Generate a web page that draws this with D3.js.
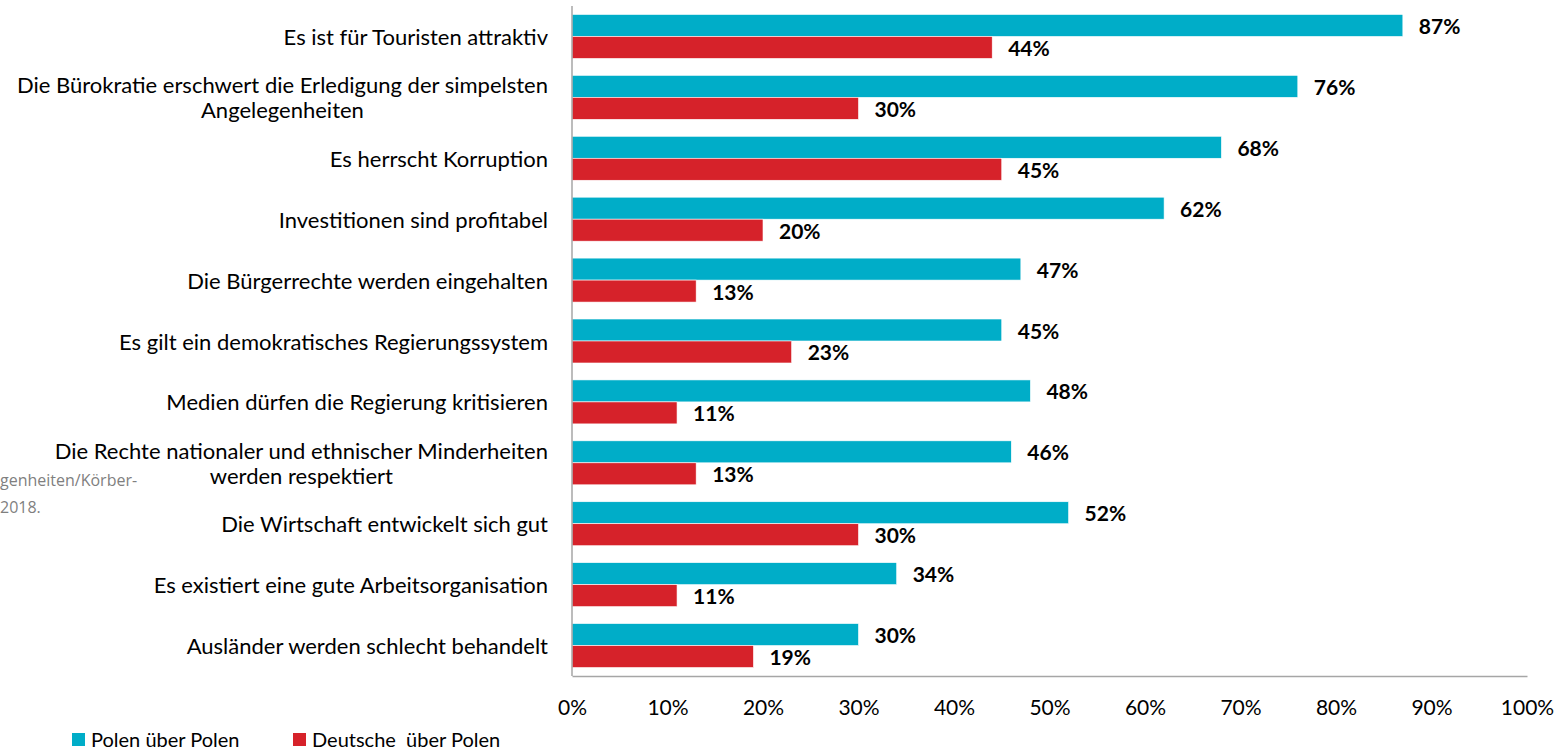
<!DOCTYPE html>
<html>
<head>
<meta charset="utf-8">
<script src="https://cdn.jsdelivr.net/npm/d3@7"></script>
<style>
  body { margin: 0; background: #fff; }
  text { font-family: Lato, "Open Sans", sans-serif; }
</style>
</head>
<body>
<div id="chart"></div>
<script>
var categories = [
    "Es ist für Touristen attraktiv",
    "Die Bürokratie erschwert die Erledigung der simpelsten\nAngelegenheiten",
    "Es herrscht Korruption",
    "Investitionen sind profitabel",
    "Die Bürgerrechte werden eingehalten",
    "Es gilt ein demokratisches Regierungssystem",
    "Medien dürfen die Regierung kritisieren",
    "Die Rechte nationaler und ethnischer Minderheiten\nwerden respektiert",
    "Die Wirtschaft entwickelt sich gut",
    "Es existiert eine gute Arbeitsorganisation",
    "Ausländer werden schlecht behandelt"
];
var polen = [87, 76, 68, 62, 47, 45, 48, 46, 52, 34, 30];
var deutsche = [44, 30, 45, 20, 13, 23, 11, 13, 30, 11, 19];
var seriesNames = ["Polen über Polen", "Deutsche  über Polen"];
var seriesColors = ["#00adc8", "#d6222a"];
var tickValues = [0, 10, 20, 30, 40, 50, 60, 70, 80, 90, 100];
var sourceLines = ["genheiten/Körber-", "2018."];

var totalWidth = 1558,
    totalHeight = 750;

var svg = d3.select("#chart")
    .append("svg")
    .attr("width", totalWidth)
    .attr("height", totalHeight);

// rows = one object per category, values per series
var rows = categories.map((c, i) => ({cat: c, values: [polen[i], deutsche[i]]}));

var x = d3.scaleLinear()
    .domain([0, 100])
    .range([572, 1527]);

var y = d3.scaleBand()
    .domain(categories)
    .range([6, 676])
    .paddingInner(0.278)
    .paddingOuter(0.139);

var ySub = d3.scaleBand()
    .domain([0, 1])
    .range([0, y.bandwidth()]);

// source note cut off at the left edge
svg.append("g")
    .selectAll("text")
    .data(sourceLines)
    .enter()
    .append("text")
    .attr("x", 0)
    .attr("y", (d, i) => 480 + i * 27)
    .attr("dominant-baseline", "central")
    .style("font-family", "'Open Sans', sans-serif")
    .style("font-size", "16px")
    .style("fill", "#7f7f7f")
    .text(d => d);

// bars
var groups = svg.append("g")
    .selectAll("g")
    .data(rows)
    .enter()
    .append("g")
    .attr("transform", d => "translate(0," + y(d.cat) + ")");

groups.selectAll("rect")
    .data(d => d.values)
    .enter()
    .append("rect")
    .attr("x", x(0))
    .attr("y", (d, i) => ySub(i))
    .attr("width", d => x(d) - x(0))
    .attr("height", ySub.bandwidth())
    .style("fill", (d, i) => seriesColors[i])
    .style("stroke", "#fff")
    .style("stroke-width", 0.6);

groups.selectAll("text.val")
    .data(d => d.values)
    .enter()
    .append("text")
    .attr("class", "val")
    .attr("x", d => x(d) + 16)
    .attr("y", (d, i) => ySub(i) + ySub.bandwidth() / 2)
    .attr("dominant-baseline", "central")
    .style("font-size", "21px")
    .style("font-weight", "bold")
    .style("fill", "#000")
    .text(d => d + "%");

// category labels, multi-line ones centred on their widest line
var labelRight = 548;
var lineHeight = 25;
svg.append("g")
    .selectAll("text")
    .data(categories)
    .enter()
    .append("text")
    .style("font-size", "22px")
    .style("fill", "#000")
    .each(function (d) {
        var lines = d.split("\n");
        var t = d3.select(this);
        var cy = y(d) + y.bandwidth() / 2;
        var spans = lines.map((l, i) => t.append("tspan")
            .attr("y", cy + (i - (lines.length - 1) / 2) * lineHeight)
            .attr("dominant-baseline", "central")
            .text(l));
        var maxW = d3.max(spans, s => s.node().getComputedTextLength());
        spans.forEach(s => s.attr("x", labelRight - maxW / 2).attr("text-anchor", "middle"));
    });

// axes
svg.append("line")
    .attr("x1", x(0)).attr("x2", x(0))
    .attr("y1", 6).attr("y2", 676)
    .style("stroke", "#a6a6a6")
    .style("stroke-width", 1.5);

var xAxis = svg.append("g")
    .attr("transform", "translate(0,676)")
    .call(d3.axisBottom(x)
        .tickValues(tickValues)
        .tickSize(0)
        .tickPadding(24)
        .tickFormat(d => d + "%"));

xAxis.select(".domain")
    .style("stroke", "#a6a6a6")
    .style("stroke-width", 1.5);

xAxis.selectAll("text")
    .style("font-family", "Lato, sans-serif")
    .style("font-size", "21px")
    .style("fill", "#000");

// legend
var legendX = [72, 293];
var legend = svg.append("g")
    .selectAll("g")
    .data(seriesNames)
    .enter()
    .append("g")
    .attr("transform", (d, i) => "translate(" + legendX[i] + ",733)");

legend.append("rect")
    .attr("width", 13)
    .attr("height", 13)
    .style("fill", (d, i) => seriesColors[i]);

legend.append("text")
    .attr("x", 19)
    .attr("y", 6)
    .attr("dominant-baseline", "central")
    .style("font-size", "20px")
    .style("fill", "#000")
    .style("white-space", "pre")
    .text(d => d);
</script>
</body>
</html>
